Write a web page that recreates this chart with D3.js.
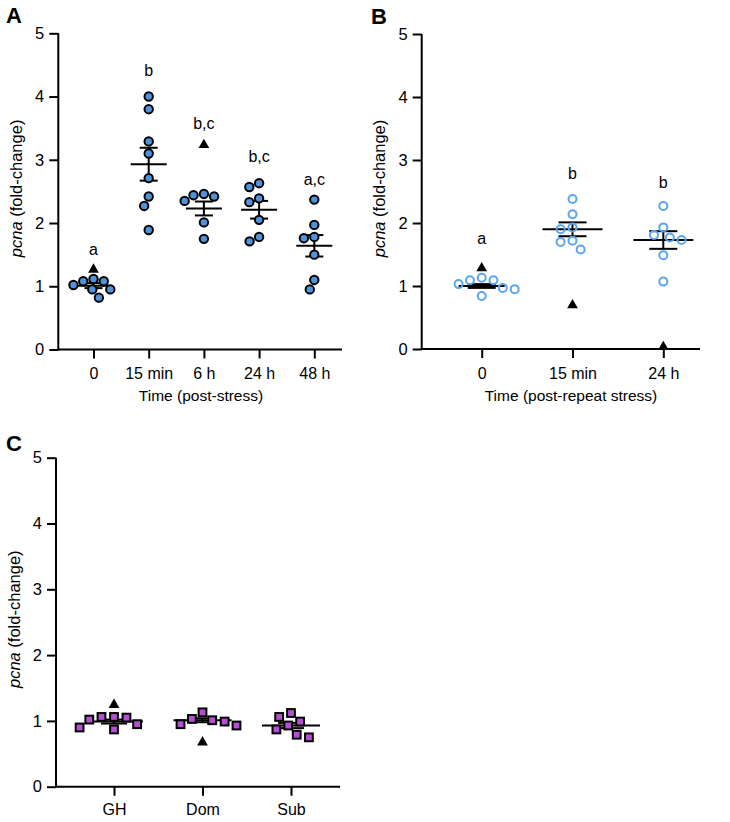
<!DOCTYPE html>
<html><head><meta charset="utf-8">
<script src="https://cdn.jsdelivr.net/npm/d3@7"></script>
<style>body{margin:0;background:#fff}text{font-family:"Liberation Sans",Arial,sans-serif;fill:#000}</style>
</head><body><svg id="c" width="730" height="822"></svg>
<script>
// ---------- DATA ----------
const yTicks = [0, 1, 2, 3, 4, 5];

const catsA = ["0", "15 min", "6 h", "24 h", "48 h"];
const pointsA = [
  [1.115, 1.08, 1.08, 1.02, 0.95, 0.95, 0.82],
  [4.00, 3.80, 3.29, 3.10, 2.71, 2.42, 2.27, 1.89],
  [2.42, 2.46, 2.35, 2.44, 2.01, 1.75],
  [2.63, 2.57, 2.39, 2.33, 2.05, 1.71, 1.78],
  [2.37, 1.97, 1.78, 1.76, 1.50, 1.10, 0.95]
];
const triA = [1.28, null, 3.25, null, null];
const meanA = [1.01, 2.93, 2.23, 2.21, 1.64];
const semA = [0.04, 0.26, 0.11, 0.14, 0.17];
const lettersA = ["a", "b", "b,c", "b,c", "a,c"];
const letterYA = [1.58, 4.41, 3.57, 3.05, 2.69];

const catsB = ["0", "15 min", "24 h"];
const pointsB = [
  [1.13, 1.09, 0.97, 0.84, 1.03, 1.09, 0.95],
  [2.38, 2.14, 1.90, 1.93, 1.72, 1.70, 1.58],
  [2.27, 1.81, 1.93, 1.77, 1.73, 1.49, 1.07]
];
const triB = [1.30, 0.71, 0.05];
const meanB = [1.00, 1.90, 1.73];
const semB = [0.03, 0.11, 0.14];
const lettersB = ["a", "b", "b"];
const letterYB = [1.76, 2.78, 2.65];

const catsC = ["GH", "Dom", "Sub"];
const pointsC = [
  [1.06, 1.02, 0.87, 0.95, 1.05, 0.90, 1.06],
  [0.95, 1.03, 0.99, 1.13, 1.01, 0.93],
  [1.12, 0.99, 0.75, 0.87, 1.06, 0.93, 0.79]
];
const triC = [1.26, 0.69, null];
const meanC = [0.99, 1.01, 0.93];
const semC = [0.03, 0.03, 0.04];

// ---------- DRAW ----------
const svg = d3.select("#c");

function swarm(vals, y, D) {
  const items = vals.map((v, i) => ({ i, py: y(v), x: 0 }));
  const order = items.slice().sort((a, b) => a.py - b.py);
  const placed = [];
  for (const it of order) {
    const cands = [0];
    for (const p of placed) {
      const dy = Math.abs(p.py - it.py);
      if (dy < D) { const dx = Math.sqrt(D * D - dy * dy); cands.push(p.x + dx, p.x - dx); }
    }
    cands.sort((a, b) => Math.abs(a) - Math.abs(b) || a - b);
    for (const c of cands) {
      if (placed.every(p => (p.x - c) ** 2 + (p.py - it.py) ** 2 >= D * D - 0.01)) { it.x = c; break; }
    }
    placed.push(it);
  }
  return items.map(it => it.x);
}

function panel(cfg) {
  const g = svg.append("g");
  const y = d3.scaleLinear().domain([0, 5]).range([cfg.yBottom, cfg.yTop]);
  const x = d3.scalePoint().domain(cfg.cats).range(cfg.catRange);

  const ya = g.append("g").attr("transform", `translate(${cfg.axisX},0)`)
    .call(d3.axisLeft(y).tickValues(yTicks).tickFormat(d3.format("d")).tickSize(9).tickSizeOuter(0).tickPadding(5));
  ya.select(".domain").attr("stroke-width", 2).attr("d", `M0,${cfg.yTop}V${cfg.yBottom + 1}`);
  ya.selectAll(".tick line").attr("stroke-width", 2);
  ya.selectAll(".tick text").style("font-size", "16.5px").style("font-family", '"Liberation Sans", Arial, sans-serif');

  const xa = g.append("g").attr("transform", `translate(0,${cfg.yBottom})`)
    .call(d3.axisBottom(x).tickSize(9).tickSizeOuter(0).tickPadding(cfg.xPad));
  xa.select(".domain").remove();
  xa.selectAll(".tick line").attr("stroke-width", 2);
  xa.selectAll(".tick text").style("font-size", "16px").style("font-family", '"Liberation Sans", Arial, sans-serif');
  g.append("line").attr("x1", cfg.axisX - 1).attr("x2", cfg.xEnd)
    .attr("y1", cfg.yBottom).attr("y2", cfg.yBottom).attr("stroke", "#000").attr("stroke-width", 2);

  const yl = g.append("text").attr("transform", `translate(${cfg.yLabelX},${(cfg.yTop + cfg.yBottom) / 2 - 3}) rotate(-90)`)
    .attr("text-anchor", "middle").style("font-size", "16.5px");
  yl.append("tspan").style("font-style", "italic").text("pcna");
  yl.append("tspan").text(" (fold-change)");

  if (cfg.title) {
    g.append("text").attr("x", cfg.titleX).attr("y", cfg.yBottom + 51.5)
      .attr("text-anchor", "middle").style("font-size", "15.5px").text(cfg.title);
  }

  g.append("text").attr("x", cfg.letterPos[0]).attr("y", cfg.letterPos[1])
    .style("font-size", "22px").style("font-weight", "bold").text(cfg.letter);

  cfg.cats.forEach((c, i) => {
    const cx = x(c);
    const mh = cfg.meanHalf[i], ch = cfg.capHalf;
    const m = cfg.mean[i], s = cfg.sem[i];
    const eg = g.append("g").attr("stroke", "#000").attr("stroke-width", 2);
    eg.append("line").attr("x1", cx - mh).attr("x2", cx + mh).attr("y1", y(m)).attr("y2", y(m));
    eg.append("line").attr("x1", cx).attr("x2", cx).attr("y1", y(m + s)).attr("y2", y(m - s));
    eg.append("line").attr("x1", cx - ch).attr("x2", cx + ch).attr("y1", y(m + s)).attr("y2", y(m + s));
    eg.append("line").attr("x1", cx - ch).attr("x2", cx + ch).attr("y1", y(m - s)).attr("y2", y(m - s));

    const vals = cfg.points[i];
    const offs = swarm(vals, y, cfg.D);
    vals.forEach((v, j) => {
      const px = cx + offs[j], py = y(v);
      if (cfg.marker === "filled") {
        g.append("circle").attr("cx", px).attr("cy", py).attr("r", 4.2)
          .attr("fill", "#4f93dc").attr("stroke", "#000").attr("stroke-width", 2);
      } else if (cfg.marker === "open") {
        g.append("circle").attr("cx", px).attr("cy", py).attr("r", 4)
          .attr("fill", "none").attr("stroke", "#5aa6f0").attr("stroke-width", 2);
      } else {
        g.append("rect").attr("x", px - 3.9).attr("y", py - 3.9).attr("width", 7.8).attr("height", 7.8)
          .attr("fill", "#b64fd2").attr("stroke", "#000").attr("stroke-width", 2);
      }
    });
    if (cfg.tri[i] != null) {
      g.append("path").attr("transform", `translate(${cx},${y(cfg.tri[i]) + 1})`)
        .attr("d", d3.symbol(d3.symbolTriangle, 50)()).attr("fill", "#000");
    }
    if (cfg.letters) {
      g.append("text").attr("x", cx).attr("y", y(cfg.letterY[i])).attr("dy", "0.35em")
        .attr("text-anchor", "middle").style("font-size", "16px").text(cfg.letters[i]);
    }
  });
}

panel({
  cats: catsA, points: pointsA, tri: triA, mean: meanA, sem: semA, letters: lettersA, letterY: letterYA,
  yTop: 33.3, yBottom: 349.5, axisX: 58.3, xEnd: 342, catRange: [93.5, 314.3], xPad: 9.5,
  yLabelX: 22, title: "Time (post-stress)", titleX: 201, letter: "A", letterPos: [6, 23],
  marker: "filled", D: 10.5, meanHalf: [18, 18, 18, 18, 18], capHalf: 9
});
panel({
  cats: catsB, points: pointsB, tri: triB, mean: meanB, sem: semB, letters: lettersB, letterY: letterYB,
  yTop: 34, yBottom: 349, axisX: 421.7, xEnd: 700, catRange: [481.7, 663.3], xPad: 9.5,
  yLabelX: 385, title: "Time (post-repeat stress)", titleX: 571, letter: "B", letterPos: [371, 24],
  marker: "open", D: 12, meanHalf: [23, 30, 30], capHalf: 14
});
panel({
  cats: catsC, points: pointsC, tri: triC, mean: meanC, sem: semC, letters: null,
  yTop: 457.7, yBottom: 786.7, axisX: 56, xEnd: 340, catRange: [114, 291], xPad: 7.5,
  yLabelX: 20, title: null, letter: "C", letterPos: [6, 451],
  marker: "square", D: 12.5, meanHalf: [29, 29, 29], capHalf: 13
});
</script></body></html>
